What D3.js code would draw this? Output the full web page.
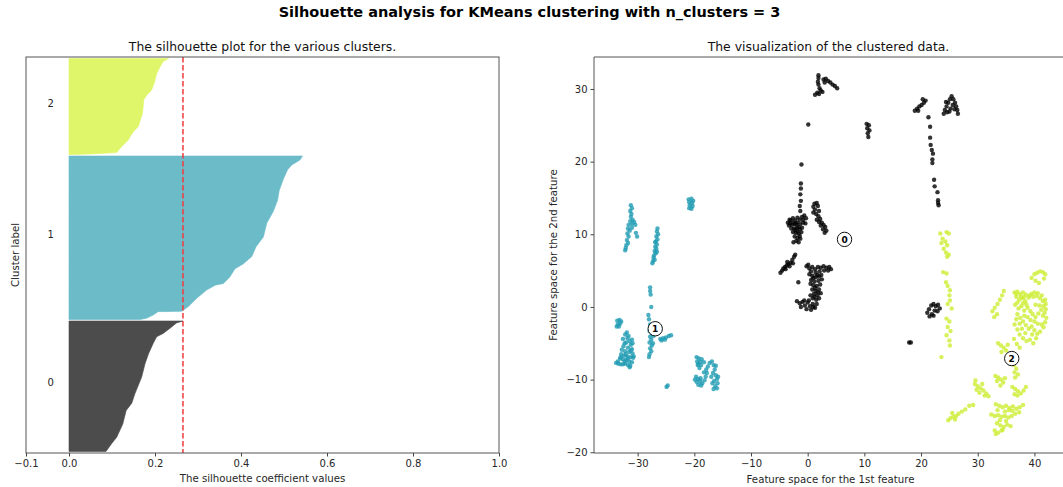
<!DOCTYPE html>
<html>
<head>
<meta charset="utf-8">
<script src="https://cdn.jsdelivr.net/npm/d3@7"></script>
<style>
  body { margin: 0; background: #fff; }
  svg { display: block; font-family: "DejaVu Sans", sans-serif; }
</style>
</head>
<body>
<div id="chart"></div>
<script>
// ---- data ----
const clusterIds = [0, 1, 2];
const clusterSizes = [870, 1090, 640];
const avgSilhouette = 0.265;

// silhouette profiles: [position within cluster (0 bottom .. 1 top), coefficient]
const silCluster0 = [[0, 0.086], [0.06, 0.099], [0.11, 0.111], [0.21, 0.125], [0.315, 0.133], [0.37, 0.146],
  [0.44, 0.153], [0.57, 0.169], [0.675, 0.177], [0.75, 0.185], [0.83, 0.196], [0.88, 0.204], [0.905, 0.219],
  [0.945, 0.235], [0.985, 0.25], [1, 0.265]];
const silCluster1 = [[0, 0.165], [0.007, 0.18], [0.028, 0.196], [0.048, 0.207], [0.05, 0.262], [0.078, 0.277],
  [0.13, 0.297], [0.18, 0.32], [0.21, 0.34], [0.22, 0.359], [0.26, 0.374], [0.31, 0.386], [0.34, 0.405],
  [0.385, 0.425], [0.445, 0.435], [0.505, 0.452], [0.59, 0.46], [0.66, 0.475], [0.73, 0.485], [0.79, 0.489],
  [0.855, 0.498], [0.915, 0.508], [0.945, 0.518], [0.975, 0.537], [1, 0.543]];
const silCluster2 = [[0, 0.012], [0.003, 0.033], [0.008, 0.064], [0.02, 0.111], [0.055, 0.117], [0.1, 0.126],
  [0.15, 0.138], [0.185, 0.142], [0.24, 0.15], [0.29, 0.161], [0.43, 0.171], [0.57, 0.174], [0.62, 0.181],
  [0.67, 0.192], [0.74, 0.198], [0.845, 0.204], [0.915, 0.212], [0.97, 0.219], [1, 0.232]];
const silProfiles = [silCluster0, silCluster1, silCluster2];

const silTicks = [-0.1, 0, 0.2, 0.4, 0.6, 0.8, 1.0];
const featXTicks = [-30, -20, -10, 0, 10, 20, 30, 40];
const featYTicks = [-20, -10, 0, 10, 20, 30];

// scatter points per cluster [feature 1, feature 2]
const points0 = [
  [1.9, 31.9], [1.9, 31.5], [1.8, 31.0], [1.9, 30.6], [2.1, 30.1], [2.3, 29.8], [1.7, 29.5], [1.3, 29.2], [2.0, 29.3],
  [2.6, 29.6], [2.8, 31.3], [3.2, 31.4], [3.6, 31.1], [4.0, 30.9], [4.4, 30.6], [4.8, 30.4], [5.2, 30.1], [3.0, 30.9],
  [0.1, 25.1], [-1.1, 19.6],
  [-1.2, 17.0], [-1.2, 16.3], [-1.3, 15.5], [-1.2, 14.6], [-1.4, 13.9], [-1.3, 13.2],
  [-3.5, 11.6], [-3.0, 11.9], [-2.6, 12.2], [-2.2, 11.9], [-1.8, 12.3], [-1.4, 12.0], [-1.0, 12.4], [-0.6, 12.6],
  [-0.3, 12.2], [-3.3, 11.2], [-2.8, 11.3], [-2.3, 11.4], [-1.8, 11.6], [-1.3, 11.4], [-0.8, 11.6], [-0.4, 11.5],
  [-2.9, 10.8], [-2.4, 10.8], [-1.9, 10.9], [-1.4, 10.7], [-1.0, 10.9], [-2.6, 10.3], [-2.1, 10.2], [-1.6, 10.1],
  [-1.1, 10.3], [-2.3, 9.7], [-1.8, 9.5], [-1.4, 9.8], [-2.0, 9.1], [-1.6, 8.9], [-2.5, 8.9],
  [-3.1, 11.5], [-2.5, 11.6], [-2.0, 11.4], [-1.6, 11.0], [-2.2, 10.6], [-1.8, 10.4], [-1.3, 9.4], [-0.8, 12.0], [-3.2, 12.0],
  [1.2, 14.2], [1.6, 14.3], [1.0, 13.8], [1.8, 13.9], [1.3, 13.4], [2.0, 13.2], [1.5, 12.8], [1.9, 12.5], [2.2, 12.1],
  [2.0, 11.7], [2.5, 11.6], [2.3, 11.2], [2.8, 11.3], [3.1, 11.0], [2.7, 10.7], [3.3, 10.5], [3.0, 10.2], [1.0, 13.0],
  [1.6, 12.0],
  [-4.8, 4.7], [-4.5, 5.0], [-4.3, 5.3], [-4.0, 5.5], [-3.7, 5.7], [-3.9, 5.2], [-3.4, 5.9], [-3.0, 6.1], [-2.7, 6.5],
  [-2.4, 6.9], [-2.2, 7.2], [-3.2, 5.6], [-2.6, 6.0], [-3.6, 6.2], [-1.65, 3.4],
  [-0.2, 5.6], [0.3, 5.3], [0.8, 5.5], [1.3, 5.2], [1.8, 5.5], [2.3, 5.4], [2.8, 5.6], [3.3, 5.4], [3.8, 5.5], [4.1, 5.2],
  [0.6, 4.9], [1.4, 4.7], [2.1, 4.9], [2.9, 5.0], [0.8, 4.3], [1.4, 4.1], [2.0, 4.2], [0.6, 3.7], [1.2, 3.5], [1.9, 3.6],
  [2.5, 3.8], [1.0, 3.0], [1.6, 2.9], [2.2, 3.1], [0.8, 2.4], [1.4, 2.2], [2.0, 2.4], [1.1, 1.8], [1.7, 1.6], [2.3, 1.9],
  [0.9, 1.2], [1.5, 1.0], [-1.9, 0.8], [-1.4, 0.5], [-0.9, 0.7], [-0.5, 0.2], [0.0, 0.6], [0.4, 0.1], [0.9, 0.4],
  [1.3, -0.1], [-0.2, -0.3], [-1.2, 0.0], [0.6, -0.4], [1.6, 0.4],
  [0.3, 4.5], [1.0, 4.0], [1.7, 4.4], [2.4, 4.4], [0.5, 3.2], [1.3, 2.6], [1.8, 2.0], [0.5, 1.6], [1.2, 1.4], [2.0, 1.2],
  [0.2, 0.9], [-0.6, 0.9], [1.0, 0.0], [3.6, 5.0], [0.1, 5.8],
  [10.4, 25.2], [10.8, 25.0], [10.5, 24.6], [10.9, 24.3], [10.6, 23.9], [10.7, 23.4],
  [18.9, 27.0], [19.3, 27.3], [19.7, 27.6], [20.1, 27.8], [20.5, 28.1], [20.8, 28.4], [20.3, 28.6], [19.5, 27.0],
  [24.0, 26.6], [24.2, 27.1], [24.5, 27.6], [24.8, 28.1], [25.1, 28.6], [25.4, 29.0], [25.7, 28.6], [26.0, 28.1],
  [26.2, 27.6], [26.4, 27.1], [26.5, 26.6], [24.6, 26.8], [25.2, 27.3], [25.6, 27.8], [25.0, 26.9], [25.9, 27.2],
  [24.4, 28.2],
  [21.3, 26.1], [21.6, 24.8], [21.6, 23.3], [21.7, 22.3], [21.9, 21.6], [22.1, 21.1], [22.0, 20.3], [22.0, 19.8],
  [22.3, 17.5], [22.4, 16.6], [22.9, 15.8], [23.0, 14.7], [23.1, 14.0], [23.0, 14.3],
  [21.1, -0.8], [21.4, -0.3], [21.8, 0.2], [22.2, 0.4], [22.6, 0.1], [23.0, 0.3], [23.3, -0.2], [22.9, -0.6],
  [22.4, -0.5], [21.9, -1.0], [21.5, -1.3], [22.2, -1.2], [17.9, -4.9], [18.2, -4.9]
];
const points1 = [
  [-31.2, 14.0], [-31.0, 13.6], [-31.3, 13.2], [-31.1, 12.8], [-31.2, 12.4], [-30.9, 12.0], [-31.3, 11.8], [-31.0, 11.4],
  [-30.6, 11.7], [-30.4, 11.3], [-31.6, 11.3], [-31.7, 10.8], [-31.4, 10.5], [-31.0, 10.9], [-30.3, 10.2], [-30.1, 9.7],
  [-31.8, 10.1], [-31.6, 9.7], [-31.9, 9.2], [-31.7, 8.8], [-32.0, 8.5], [-32.1, 8.1], [-32.2, 7.8],
  [-26.5, 10.8], [-26.6, 10.4], [-26.4, 10.0], [-26.7, 9.7], [-26.5, 9.3], [-26.8, 9.0], [-26.6, 8.6], [-26.9, 8.3],
  [-26.7, 8.0], [-27.0, 7.7], [-26.8, 7.4], [-27.1, 7.1], [-27.2, 6.8], [-27.0, 6.5], [-27.3, 6.3], [-27.4, 6.0],
  [-26.9, 8.9], [-26.6, 7.6],
  [-21.0, 14.8], [-20.5, 14.9], [-20.2, 14.6], [-20.9, 14.4], [-20.4, 14.3], [-20.8, 14.0], [-20.3, 13.9],
  [-20.9, 13.6], [-20.5, 13.5],
  [-27.8, 2.7], [-27.8, 2.2], [-27.7, 1.7], [-27.6, 0.0], [-28.1, -1.1], [-28.0, -1.7], [-27.8, -2.4], [-27.6, -2.9],
  [-27.9, -3.3], [-27.5, -3.7], [-27.8, -4.1], [-27.6, -4.5], [-27.9, -4.9], [-27.5, -5.3], [-27.8, -5.7],
  [-27.6, -6.1], [-27.9, -6.5], [-28.0, -6.9], [-27.2, -4.0], [-27.3, -5.0],
  [-26.0, -4.4], [-25.5, -4.3], [-25.0, -4.2], [-24.5, -4.0], [-24.1, -3.9], [-25.8, -4.6], [-25.2, -4.5],
  [-33.6, -1.9], [-33.2, -1.8], [-32.9, -2.0], [-33.5, -2.4], [-33.1, -2.3], [-33.7, -2.7], [-33.3, -2.7],
  [-32.2, -3.8], [-31.8, -4.3], [-31.4, -4.7], [-32.0, -4.9], [-31.2, -5.2], [-32.5, -5.4], [-31.7, -5.6],
  [-31.0, -5.8], [-32.8, -5.9], [-32.2, -6.1], [-31.5, -6.2], [-30.9, -6.4], [-32.9, -6.5], [-32.4, -6.7],
  [-31.8, -6.8], [-31.2, -6.9], [-30.8, -7.0], [-32.6, -7.2], [-32.0, -7.3], [-31.5, -7.5], [-31.0, -7.6],
  [-33.8, -7.7], [-33.4, -7.8], [-33.0, -7.9], [-32.6, -7.9], [-32.2, -7.8], [-31.7, -8.0], [-31.3, -8.1],
  [-31.7, -7.1], [-32.3, -5.0], [-31.6, -4.0], [-30.9, -5.0], [-33.1, -7.1], [-31.4, -8.3],
  [-32.6, -4.4], [-31.9, -3.5], [-31.0, -4.5], [-33.0, -6.9], [-32.1, -6.5], [-31.2, -6.0], [-30.7, -6.8],
  [-32.3, -7.5], [-33.5, -7.5],
  [-24.9, -11.0], [-24.7, -10.8],
  [-19.6, -6.9], [-19.2, -7.1], [-19.5, -7.5], [-19.0, -7.6], [-19.4, -8.0], [-18.8, -8.0], [-19.1, -8.4],
  [-18.7, -7.2], [-18.3, -7.6], [-19.7, -9.6], [-19.3, -9.9], [-19.6, -10.3], [-19.0, -10.2], [-18.6, -10.5],
  [-18.2, -10.1], [-18.0, -9.6], [-18.3, -9.0], [-17.9, -8.6], [-17.6, -8.2], [-17.3, -7.7], [-16.9, -7.5],
  [-16.6, -8.0], [-16.4, -8.6], [-16.7, -9.1], [-16.2, -9.4], [-16.0, -9.9], [-16.5, -10.2], [-15.9, -10.5],
  [-16.3, -10.9], [-16.6, -11.3], [-16.0, -11.2], [-17.0, -9.6], [-18.8, -10.8], [-19.3, -10.7],
  [-19.3, -7.8], [-18.9, -9.8], [-19.9, -10.0], [-16.2, -8.1], [-15.8, -9.6], [-16.8, -10.5], [-17.8, -9.1]
];
const points2 = [
  [23.4, 10.1], [24.5, 10.3], [24.9, 10.1], [23.8, 9.4], [24.3, 9.0], [23.6, 8.8], [24.6, 8.5], [24.0, 8.0], [24.4, 7.5],
  [24.9, 7.2], [24.6, 6.9],
  [23.9, 4.8], [24.5, 4.6], [24.4, 3.4], [24.7, 2.9], [25.1, 2.3], [25.0, 1.6], [25.1, 0.9], [24.7, 0.4], [25.4, -0.2],
  [24.5, -1.6], [25.0, -2.0], [24.7, -2.75], [25.2, -3.3], [24.5, -3.9], [25.0, -4.6], [25.1, -5.3], [23.6, -6.9],
  [39.5, 4.0], [40.0, 4.5], [40.5, 4.7], [41.0, 4.9], [41.5, 4.8], [41.9, 4.5], [40.2, 3.6], [40.8, 3.3], [41.7, 3.9],
  [36.5, 2.0], [37.0, 2.1], [37.5, 1.8], [38.0, 2.0], [38.5, 1.7], [36.8, 1.4], [37.3, 1.0], [37.9, 1.2], [38.4, 0.8],
  [39.0, 1.3], [39.5, 1.8], [40.0, 2.0], [40.4, 1.5], [41.0, 1.2], [41.5, 0.8], [42.0, 0.4], [36.6, 0.3], [37.2, -0.2],
  [37.7, 0.1], [38.2, -0.5], [38.8, -0.1], [39.3, -0.6], [39.7, -1.0], [40.2, -1.4], [40.7, -0.9], [41.2, -0.4],
  [41.8, -0.8], [42.1, -1.5], [37.0, -1.0], [37.5, -1.5], [38.0, -2.0], [38.5, -2.5], [39.0, -3.0], [39.5, -2.7],
  [40.0, -3.2], [40.5, -3.7], [41.0, -3.4], [41.6, -2.8], [36.5, -2.4], [37.0, -3.1], [37.4, -3.8], [38.0, -4.3],
  [38.6, -4.7], [39.2, -4.5], [39.8, -5.0], [36.4, -4.4], [36.9, -5.1], [37.4, -5.6],
  [36.8, 1.8], [37.6, 1.4], [38.2, 1.4], [39.2, 1.6], [39.8, 1.4], [40.6, 1.9], [41.3, 1.6], [41.9, 1.0], [37.0, 0.6],
  [38.0, 0.5], [38.6, 0.3], [40.2, 0.3], [40.9, 0.2], [41.6, 0.1], [42.0, -0.3], [41.5, -1.2], [41.9, -2.1], [41.3, -2.4],
  [40.6, -2.3], [40.0, -2.0], [39.3, -1.8], [38.8, -1.4], [38.2, -1.2], [37.4, -2.3], [36.8, -1.7], [39.6, -3.8],
  [40.3, -4.3], [38.4, -3.6], [37.8, -3.0],
  [34.6, 2.2], [34.3, 1.6], [33.9, 1.0], [33.5, 0.4], [33.0, -0.1], [32.6, -0.6], [33.4, -1.0], [32.9, -1.4],
  [33.6, -5.0], [34.1, -5.3], [34.6, -5.6], [35.0, -6.0], [34.2, -6.2], [35.3, -5.2],
  [36.4, -8.0], [36.8, -8.5], [36.5, -9.0], [37.1, -9.3], [36.6, -9.7],
  [33.1, -9.5], [33.6, -9.7], [34.1, -10.0], [34.5, -10.4], [33.4, -10.2], [34.0, -10.8], [34.8, -9.8],
  [36.1, -11.0], [36.6, -11.3], [37.1, -11.6], [37.6, -11.9], [38.1, -11.5], [38.5, -11.0], [37.0, -12.2], [36.5, -12.0],
  [29.5, -10.6], [30.0, -10.9], [30.5, -11.2], [31.0, -11.5], [31.5, -11.9], [30.3, -11.8], [29.8, -11.4], [31.2, -12.2],
  [29.6, -10.1], [28.5, -13.6], [29.2, -13.5], [26.6, -14.7], [26.2, -15.0], [25.7, -15.1], [25.2, -15.3], [24.8, -15.6],
  [26.0, -15.5], [25.5, -14.6], [30.8, -10.6], [31.9, -12.3], [27.8, -14.1], [27.2, -14.4],
  [33.2, -13.4], [33.8, -13.6], [34.4, -13.8], [35.0, -13.6], [35.6, -13.9], [36.2, -13.7], [36.8, -14.0], [37.4, -13.8],
  [38.0, -13.5], [32.4, -14.8], [33.0, -15.0], [33.6, -14.9], [34.2, -15.1], [34.8, -15.0], [35.4, -15.2], [36.0, -15.0],
  [36.6, -14.7], [33.4, -16.0], [34.0, -16.3], [34.6, -16.5], [35.2, -16.2], [35.8, -16.4], [33.0, -17.0], [33.6, -17.3],
  [34.2, -17.0], [33.2, -17.5], [33.5, -14.2], [34.8, -14.4], [36.1, -14.3], [37.3, -14.5], [33.9, -15.6], [35.0, -15.7],
  [34.4, -16.9], [35.5, -14.2]
];
const clusterPoints = [points0, points1, points2];
const clusterCenters = [[6.5, 9.3], [-26.9, -3.0], [36.0, -7.1]];

// ---- layout ----
const width = 1063, height = 487;
const plotTop = 57, plotBottom = 453;
const left1 = 26, right1 = 499;
const left2 = 594, right2 = 1067;
const silFill = ['#4c4c4c', '#6bbbc9', '#dff66a'];
const dotFill = ['#000000', '#1f9bb3', '#cdee35'];
const textColor = '#262626';
const gap = 10;

const svg = d3.select('#chart').append('svg')
  .attr('width', width)
  .attr('height', height);

svg.append('text')
  .attr('x', width / 2 - 2).attr('y', 17)
  .attr('text-anchor', 'middle')
  .attr('font-size', 14.5).attr('font-weight', 'bold')
  .attr('fill', '#000')
  .text('Silhouette analysis for KMeans clustering with n_clusters = 3');

const defs = svg.append('defs');
defs.append('clipPath').attr('id', 'clip1').append('rect')
  .attr('x', left1).attr('y', plotTop).attr('width', right1 - left1).attr('height', plotBottom - plotTop);
defs.append('clipPath').attr('id', 'clip2').append('rect')
  .attr('x', left2).attr('y', plotTop).attr('width', right2 - left2).attr('height', plotBottom - plotTop);

function styleAxis(g) {
  g.select('.domain').remove();
  g.selectAll('.tick line').attr('stroke', '#444');
  g.selectAll('.tick text').attr('font-size', 10).attr('fill', textColor)
    .attr('font-family', '"DejaVu Sans", sans-serif');
}

// ---- silhouette plot ----
const total = d3.sum(clusterSizes);
const xSil = d3.scaleLinear().domain([-0.1, 1.0]).range([left1, right1]);
const ySil = d3.scaleLinear().domain([0, total + (clusterSizes.length + 1) * gap]).range([plotBottom, plotTop]);

const silG = svg.append('g').attr('clip-path', 'url(#clip1)');
let yLower = gap;
clusterIds.forEach((id, i) => {
  const size = clusterSizes[i];
  const base = yLower;
  const area = d3.area()
    .y(d => ySil(base + d[0] * size))
    .x0(xSil(0))
    .x1(d => xSil(d[1]));
  silG.append('path')
    .datum(silProfiles[i])
    .attr('d', area)
    .attr('fill', silFill[i])
    .attr('stroke', silFill[i])
    .attr('stroke-width', 0.6);
  svg.append('text')
    .attr('x', xSil(-0.05))
    .attr('y', ySil(base + 0.5 * size))
    .attr('font-size', 10).attr('fill', textColor)
    .text(String(id));
  yLower = base + size + gap;
});

silG.append('line')
  .attr('x1', xSil(avgSilhouette)).attr('x2', xSil(avgSilhouette))
  .attr('y1', plotTop).attr('y2', plotBottom)
  .attr('stroke', '#ee3b3b').attr('stroke-width', 1.5)
  .attr('stroke-dasharray', '5.5,2.5');

svg.append('rect')
  .attr('x', left1).attr('y', plotTop).attr('width', right1 - left1).attr('height', plotBottom - plotTop)
  .attr('fill', 'none').attr('stroke', '#555').attr('stroke-width', 1);

svg.append('g')
  .attr('transform', `translate(0,${plotBottom})`)
  .call(d3.axisBottom(xSil).tickValues(silTicks).tickFormat(d3.format('.1f')).tickSize(3.5).tickPadding(3))
  .call(styleAxis);

svg.append('text')
  .attr('x', (left1 + right1) / 2).attr('y', 51)
  .attr('text-anchor', 'middle').attr('font-size', 12.4).attr('fill', '#111')
  .text('The silhouette plot for the various clusters.');
svg.append('text')
  .attr('x', (left1 + right1) / 2).attr('y', 482)
  .attr('text-anchor', 'middle').attr('font-size', 10.2).attr('fill', textColor)
  .text('The silhouette coefficient values');
svg.append('text')
  .attr('transform', `translate(19,${(plotTop + plotBottom) / 2}) rotate(-90)`)
  .attr('text-anchor', 'middle').attr('font-size', 10.2).attr('fill', textColor)
  .text('Cluster label');

// ---- feature scatter ----
const xFeat = d3.scaleLinear().domain([-37.7, 45.75]).range([left2, right2]);
const yFeat = d3.scaleLinear().domain([-20.1, 34.4]).range([plotBottom, plotTop]);

const featG = svg.append('g').attr('clip-path', 'url(#clip2)');
clusterIds.forEach((id, i) => {
  featG.append('g').selectAll('circle')
    .data(clusterPoints[i])
    .join('circle')
    .attr('cx', d => xFeat(d[0]))
    .attr('cy', d => yFeat(d[1]))
    .attr('r', 2.2)
    .attr('fill', dotFill[i])
    .attr('fill-opacity', 0.8);
});

const centerG = featG.append('g').selectAll('g')
  .data(clusterCenters)
  .join('g')
  .attr('transform', d => `translate(${xFeat(d[0])},${yFeat(d[1])})`);
centerG.append('circle')
  .attr('r', 7.2).attr('fill', '#fff').attr('stroke', '#111').attr('stroke-width', 1);
centerG.append('text')
  .attr('text-anchor', 'middle').attr('dy', '0.36em')
  .attr('font-size', 9).attr('font-weight', 'bold').attr('fill', '#000')
  .text((d, i) => clusterIds[i]);

svg.append('path')
  .attr('d', `M${left2},${plotTop}V${plotBottom}H${right2}M${left2},${plotTop}H${right2}`)
  .attr('fill', 'none').attr('stroke', '#555').attr('stroke-width', 1);

svg.append('g')
  .attr('transform', `translate(0,${plotBottom})`)
  .call(d3.axisBottom(xFeat).tickValues(featXTicks).tickFormat(d3.format('d')).tickSize(3.5).tickPadding(3))
  .call(styleAxis);
svg.append('g')
  .attr('transform', `translate(${left2},0)`)
  .call(d3.axisLeft(yFeat).tickValues(featYTicks).tickFormat(d3.format('d')).tickSize(3.5).tickPadding(3))
  .call(styleAxis);

svg.append('text')
  .attr('x', (left2 + right2) / 2 - 2).attr('y', 51)
  .attr('text-anchor', 'middle').attr('font-size', 12.4).attr('fill', '#111')
  .text('The visualization of the clustered data.');
svg.append('text')
  .attr('x', (left2 + right2) / 2).attr('y', 483)
  .attr('text-anchor', 'middle').attr('font-size', 10.2).attr('fill', textColor)
  .text('Feature space for the 1st feature');
svg.append('text')
  .attr('transform', `translate(557,${(plotTop + plotBottom) / 2}) rotate(-90)`)
  .attr('text-anchor', 'middle').attr('font-size', 10.2).attr('fill', textColor)
  .text('Feature space for the 2nd feature');
</script>
</body>
</html>
